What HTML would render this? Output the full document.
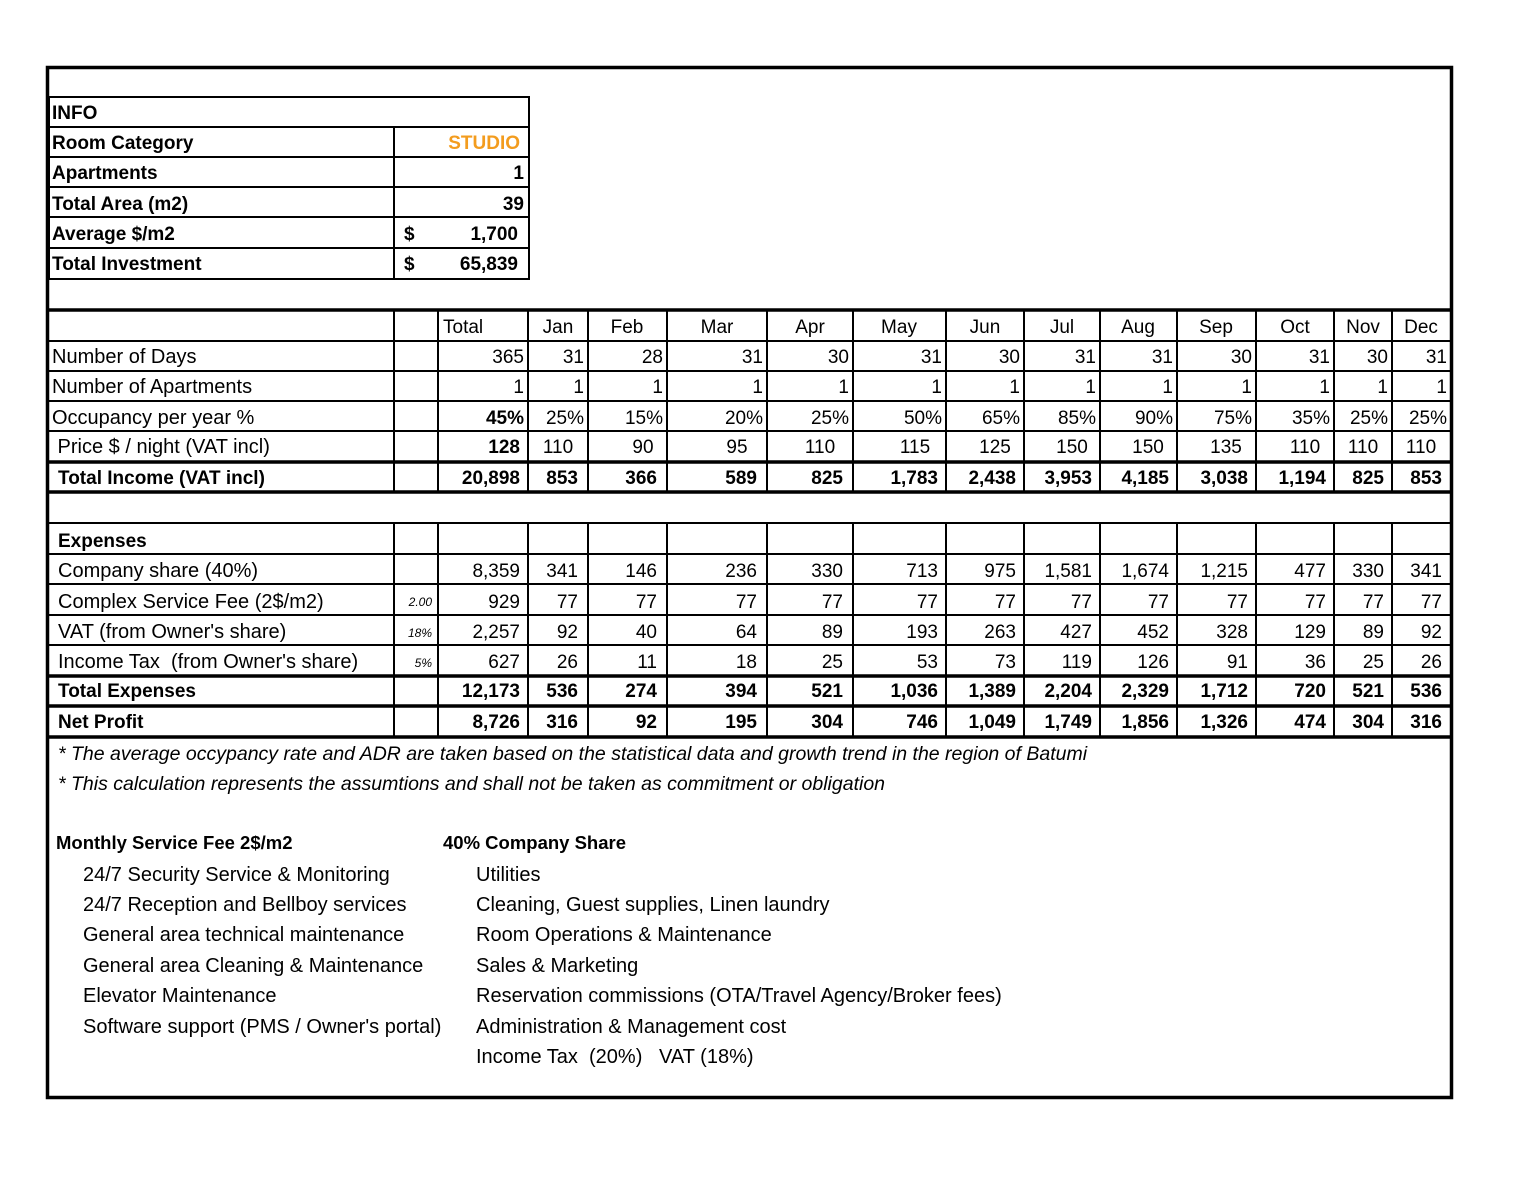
<!DOCTYPE html>
<html><head><meta charset="utf-8"><style>
html,body{margin:0;padding:0;background:#fff;}
svg{display:block;font-family:"Liberation Sans",Arial,sans-serif;}
text{font-size:19px;fill:#000;white-space:pre;}
.b{font-weight:bold;}
.r text{text-anchor:end;}
.c text{text-anchor:middle;}
.sm{font-size:12px;font-style:italic;text-anchor:end;}
.it{font-style:italic;font-size:19.5px;}
.l{font-size:20px;}
</style></head><body>
<svg width="1540" height="1190" viewBox="0 0 1540 1190" xml:space="preserve">
<rect x="0" y="0" width="1540" height="1190" fill="#fff"/>
<rect x="47.5" y="67.5" width="1404" height="1030" fill="none" stroke="#000" stroke-width="3.5"/>
<g stroke="#000" stroke-width="2" fill="none">
<rect x="49" y="97" width="480" height="182"/>
<line x1="49" y1="127" x2="529" y2="127"/><line x1="49" y1="157" x2="529" y2="157"/>
<line x1="49" y1="187" x2="529" y2="187"/><line x1="49" y1="217" x2="529" y2="217"/>
<line x1="49" y1="248" x2="529" y2="248"/>
<line x1="394" y1="127" x2="394" y2="279"/>
</g>
<g stroke="#000" stroke-width="2">
<line x1="48" y1="341" x2="1451" y2="341"/><line x1="48" y1="371" x2="1451" y2="371"/>
<line x1="48" y1="401" x2="1451" y2="401"/><line x1="48" y1="431" x2="1451" y2="431"/>
<line x1="48" y1="523" x2="1451" y2="523"/><line x1="48" y1="554" x2="1451" y2="554"/>
<line x1="48" y1="584" x2="1451" y2="584"/><line x1="48" y1="615" x2="1451" y2="615"/>
<line x1="48" y1="645" x2="1451" y2="645"/>
<line x1="394" y1="310" x2="394" y2="492"/><line x1="394" y1="523" x2="394" y2="737"/>
<line x1="438" y1="310" x2="438" y2="492"/><line x1="438" y1="523" x2="438" y2="737"/>
<line x1="528" y1="310" x2="528" y2="492"/><line x1="528" y1="523" x2="528" y2="737"/>
<line x1="588" y1="310" x2="588" y2="492"/><line x1="588" y1="523" x2="588" y2="737"/>
<line x1="667" y1="310" x2="667" y2="492"/><line x1="667" y1="523" x2="667" y2="737"/>
<line x1="767" y1="310" x2="767" y2="492"/><line x1="767" y1="523" x2="767" y2="737"/>
<line x1="853" y1="310" x2="853" y2="492"/><line x1="853" y1="523" x2="853" y2="737"/>
<line x1="946" y1="310" x2="946" y2="492"/><line x1="946" y1="523" x2="946" y2="737"/>
<line x1="1024" y1="310" x2="1024" y2="492"/><line x1="1024" y1="523" x2="1024" y2="737"/>
<line x1="1100" y1="310" x2="1100" y2="492"/><line x1="1100" y1="523" x2="1100" y2="737"/>
<line x1="1177" y1="310" x2="1177" y2="492"/><line x1="1177" y1="523" x2="1177" y2="737"/>
<line x1="1256" y1="310" x2="1256" y2="492"/><line x1="1256" y1="523" x2="1256" y2="737"/>
<line x1="1334" y1="310" x2="1334" y2="492"/><line x1="1334" y1="523" x2="1334" y2="737"/>
<line x1="1392" y1="310" x2="1392" y2="492"/><line x1="1392" y1="523" x2="1392" y2="737"/>
</g>
<g stroke="#000" stroke-width="3.5">
<line x1="48" y1="310" x2="1451" y2="310"/><line x1="48" y1="462" x2="1451" y2="462"/>
<line x1="48" y1="492" x2="1451" y2="492"/><line x1="48" y1="676" x2="1451" y2="676"/>
<line x1="48" y1="706" x2="1451" y2="706"/><line x1="48" y1="737" x2="1451" y2="737"/>
</g>

<g class="b">
<text x="52" y="119">INFO</text><text x="52" y="149">Room Category</text>
<text x="52" y="179">Apartments</text><text x="52" y="210">Total Area (m2)</text>
<text x="52" y="240">Average $/m2</text><text x="52" y="270">Total Investment</text>
<text x="404" y="240">$</text><text x="404" y="270">$</text>
</g>
<g class="b r">
<text x="520" y="149" style="fill:#f39c1e">STUDIO</text>
<text x="524" y="179">1</text><text x="524" y="210">39</text>
<text x="518" y="240">1,700</text><text x="518" y="270">65,839</text>
</g>

<text x="52" y="363" class="l">Number of Days</text>
<text x="52" y="393" class="l">Number of Apartments</text>
<text x="52" y="424" class="l">Occupancy per year %</text>
<text x="52" y="453" class="l"> Price $ / night (VAT incl)</text>
<text x="58" y="484" class="b">Total Income (VAT incl)</text>
<text x="58" y="547" class="b">Expenses</text>
<text x="58" y="577" class="l">Company share (40%)</text>
<text x="58" y="608" class="l">Complex Service Fee (2$/m2)</text>
<text x="58" y="638" class="l">VAT (from Owner's share)</text>
<text x="58" y="668" class="l">Income Tax  (from Owner's share)</text>
<text x="58" y="697" class="b">Total Expenses</text>
<text x="58" y="728" class="b">Net Profit</text>
<text x="432" y="606" class="sm">2.00</text>
<text x="432" y="637" class="sm">18%</text>
<text x="432" y="667" class="sm">5%</text>

<text x="443" y="333">Total</text>
<g class="c">
<text x="558" y="333">Jan</text><text x="627" y="333">Feb</text><text x="717" y="333">Mar</text>
<text x="810" y="333">Apr</text><text x="899" y="333">May</text><text x="985" y="333">Jun</text>
<text x="1062" y="333">Jul</text><text x="1138" y="333">Aug</text><text x="1216" y="333">Sep</text>
<text x="1295" y="333">Oct</text><text x="1363" y="333">Nov</text><text x="1421" y="333">Dec</text>
</g>
<g class="r">
<text x="524" y="363">365</text><text x="584" y="363">31</text><text x="663" y="363">28</text><text x="763" y="363">31</text><text x="849" y="363">30</text><text x="942" y="363">31</text><text x="1020" y="363">30</text><text x="1096" y="363">31</text><text x="1173" y="363">31</text><text x="1252" y="363">30</text><text x="1330" y="363">31</text><text x="1388" y="363">30</text><text x="1447" y="363">31</text>
<text x="524" y="393">1</text><text x="584" y="393">1</text><text x="663" y="393">1</text><text x="763" y="393">1</text><text x="849" y="393">1</text><text x="942" y="393">1</text><text x="1020" y="393">1</text><text x="1096" y="393">1</text><text x="1173" y="393">1</text><text x="1252" y="393">1</text><text x="1330" y="393">1</text><text x="1388" y="393">1</text><text x="1447" y="393">1</text>
<text x="524" y="424" class="b">45%</text><text x="584" y="424">25%</text><text x="663" y="424">15%</text><text x="763" y="424">20%</text><text x="849" y="424">25%</text><text x="942" y="424">50%</text><text x="1020" y="424">65%</text><text x="1096" y="424">85%</text><text x="1173" y="424">90%</text><text x="1252" y="424">75%</text><text x="1330" y="424">35%</text><text x="1388" y="424">25%</text><text x="1447" y="424">25%</text>
<text x="520" y="453" class="b">128</text>
</g>
<g class="c">
<text x="558" y="453">110</text><text x="643" y="453">90</text><text x="737" y="453">95</text><text x="820" y="453">110</text><text x="915" y="453">115</text><text x="995" y="453">125</text><text x="1072" y="453">150</text><text x="1148" y="453">150</text><text x="1226" y="453">135</text><text x="1305" y="453">110</text><text x="1363" y="453">110</text><text x="1421" y="453">110</text>
</g>
<g class="r b">
<text x="520" y="484">20,898</text><text x="578" y="484">853</text><text x="657" y="484">366</text><text x="757" y="484">589</text><text x="843" y="484">825</text><text x="938" y="484">1,783</text><text x="1016" y="484">2,438</text><text x="1092" y="484">3,953</text><text x="1169" y="484">4,185</text><text x="1248" y="484">3,038</text><text x="1326" y="484">1,194</text><text x="1384" y="484">825</text><text x="1442" y="484">853</text>
</g>
<g class="r">
<text x="520" y="577">8,359</text><text x="578" y="577">341</text><text x="657" y="577">146</text><text x="757" y="577">236</text><text x="843" y="577">330</text><text x="938" y="577">713</text><text x="1016" y="577">975</text><text x="1092" y="577">1,581</text><text x="1169" y="577">1,674</text><text x="1248" y="577">1,215</text><text x="1326" y="577">477</text><text x="1384" y="577">330</text><text x="1442" y="577">341</text>
<text x="520" y="608">929</text><text x="578" y="608">77</text><text x="657" y="608">77</text><text x="757" y="608">77</text><text x="843" y="608">77</text><text x="938" y="608">77</text><text x="1016" y="608">77</text><text x="1092" y="608">77</text><text x="1169" y="608">77</text><text x="1248" y="608">77</text><text x="1326" y="608">77</text><text x="1384" y="608">77</text><text x="1442" y="608">77</text>
<text x="520" y="638">2,257</text><text x="578" y="638">92</text><text x="657" y="638">40</text><text x="757" y="638">64</text><text x="843" y="638">89</text><text x="938" y="638">193</text><text x="1016" y="638">263</text><text x="1092" y="638">427</text><text x="1169" y="638">452</text><text x="1248" y="638">328</text><text x="1326" y="638">129</text><text x="1384" y="638">89</text><text x="1442" y="638">92</text>
<text x="520" y="668">627</text><text x="578" y="668">26</text><text x="657" y="668">11</text><text x="757" y="668">18</text><text x="843" y="668">25</text><text x="938" y="668">53</text><text x="1016" y="668">73</text><text x="1092" y="668">119</text><text x="1169" y="668">126</text><text x="1248" y="668">91</text><text x="1326" y="668">36</text><text x="1384" y="668">25</text><text x="1442" y="668">26</text>
</g>
<g class="r b">
<text x="520" y="697">12,173</text><text x="578" y="697">536</text><text x="657" y="697">274</text><text x="757" y="697">394</text><text x="843" y="697">521</text><text x="938" y="697">1,036</text><text x="1016" y="697">1,389</text><text x="1092" y="697">2,204</text><text x="1169" y="697">2,329</text><text x="1248" y="697">1,712</text><text x="1326" y="697">720</text><text x="1384" y="697">521</text><text x="1442" y="697">536</text>
<text x="520" y="728">8,726</text><text x="578" y="728">316</text><text x="657" y="728">92</text><text x="757" y="728">195</text><text x="843" y="728">304</text><text x="938" y="728">746</text><text x="1016" y="728">1,049</text><text x="1092" y="728">1,749</text><text x="1169" y="728">1,856</text><text x="1248" y="728">1,326</text><text x="1326" y="728">474</text><text x="1384" y="728">304</text><text x="1442" y="728">316</text>
</g>

<text x="58" y="760" class="it">* The average occypancy rate and ADR are taken based on the statistical data and growth trend in the region of Batumi</text>
<text x="58" y="790" class="it">* This calculation represents the assumtions and shall not be taken as commitment or obligation</text>

<text x="56" y="849" class="b" style="font-size:18.5px">Monthly Service Fee 2$/m2</text>
<text x="83" y="881" class="l">24/7 Security Service &amp; Monitoring</text>
<text x="83" y="911" class="l">24/7 Reception and Bellboy services</text>
<text x="83" y="941" class="l">General area technical maintenance</text>
<text x="83" y="972" class="l">General area Cleaning &amp; Maintenance</text>
<text x="83" y="1002" class="l">Elevator Maintenance</text>
<text x="83" y="1033" class="l">Software support (PMS / Owner's portal)</text>

<text x="443" y="849" class="b" style="font-size:18.5px">40% Company Share</text>
<text x="476" y="881" class="l">Utilities</text>
<text x="476" y="911" class="l">Cleaning, Guest supplies, Linen laundry</text>
<text x="476" y="941" class="l">Room Operations &amp; Maintenance</text>
<text x="476" y="972" class="l">Sales &amp; Marketing</text>
<text x="476" y="1002" class="l">Reservation commissions (OTA/Travel Agency/Broker fees)</text>
<text x="476" y="1033" class="l">Administration &amp; Management cost</text>
<text x="476" y="1063" class="l">Income Tax  (20%)   VAT (18%)</text>
</svg>
</body></html>
